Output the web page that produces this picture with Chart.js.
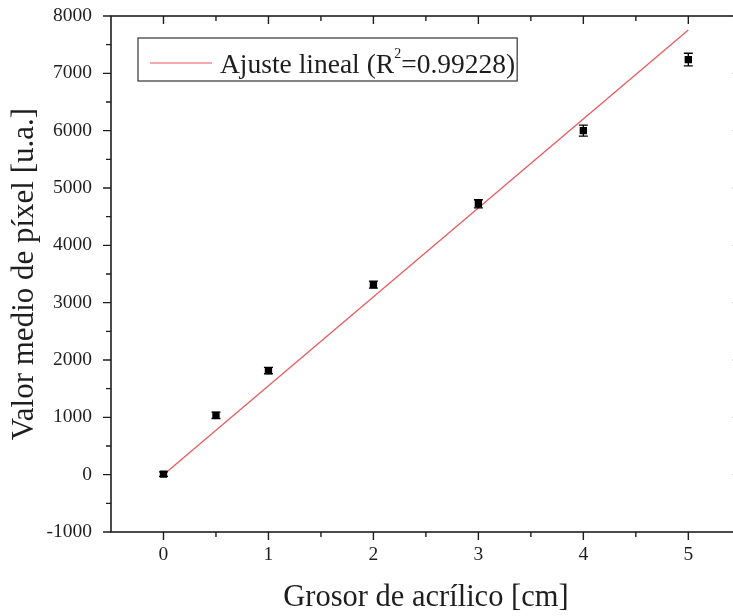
<!DOCTYPE html>
<html>
<head>
<meta charset="utf-8">
<script src="https://cdn.jsdelivr.net/npm/chart.js@4.4.1/dist/chart.umd.min.js"></script>
<style>
html,body{margin:0;padding:0;background:#fff;overflow:hidden;width:733px;height:616px;}
canvas{display:block;}
</style>
</head>
<body>
<canvas id="c" width="746" height="616"></canvas>
<script>
// ---- data ----
const thickness = [0, 0.5, 1, 2, 3, 4, 5];
const pixelMean = [10, 1035, 1815, 3315, 4725, 6000, 7240];
const pixelErr  = [40, 55, 55, 60, 70, 95, 110];
const fitX = [0, 5];
const fitY = [0, 7754];
const xMajorTicks = [0, 1, 2, 3, 4, 5];
const xMinorTicks = [0.5, 1.5, 2.5, 3.5, 4.5];
const yMajorTicks = [-1000, 0, 1000, 2000, 3000, 4000, 5000, 6000, 7000, 8000];
const yMinorTicks = [-500, 500, 1500, 2500, 3500, 4500, 5500, 6500, 7500];
const legendLabel = 'Ajuste lineal (R';
const legendSup = '2';
const legendTail = '=0.99228)';
const xTitle = 'Grosor de acrílico [cm]';
const yTitle = 'Valor medio de píxel [u.a.]';

const SERIF = "'Liberation Serif','Times New Roman',serif";
const INK = '#1e1e1e';

const framePlugin = {
  id: 'frame',
  afterDatasetsDraw(chart) {
    const ctx = chart.ctx, xs = chart.scales.x, ys = chart.scales.y;
    ctx.save();
    ctx.strokeStyle = '#000';
    ctx.lineWidth = 1.3;
    thickness.forEach((t, i) => {
      const px = xs.getPixelForValue(t);
      const top = ys.getPixelForValue(pixelMean[i] + pixelErr[i]);
      const bot = ys.getPixelForValue(pixelMean[i] - pixelErr[i]);
      ctx.beginPath();
      ctx.moveTo(px, top); ctx.lineTo(px, bot);
      ctx.moveTo(px - 4.5, top); ctx.lineTo(px + 4.5, top);
      ctx.moveTo(px - 4.5, bot); ctx.lineTo(px + 4.5, bot);
      ctx.stroke();
    });
    ctx.restore();
  },
  afterDraw(chart) {
    const ctx = chart.ctx, a = chart.chartArea, xs = chart.scales.x, ys = chart.scales.y;
    ctx.save();
    ctx.strokeStyle = INK;
    ctx.lineWidth = 1.6;
    ctx.strokeRect(a.left, a.top, a.right - a.left, a.bottom - a.top);
    ctx.lineWidth = 1.4;
    const major = 8, minor = 5;
    ctx.beginPath();
    xMajorTicks.forEach(v => {
      const p = xs.getPixelForValue(v);
      ctx.moveTo(p, a.bottom); ctx.lineTo(p, a.bottom + major);
      ctx.moveTo(p, a.top); ctx.lineTo(p, a.top + major);
    });
    xMinorTicks.forEach(v => {
      const p = xs.getPixelForValue(v);
      ctx.moveTo(p, a.bottom); ctx.lineTo(p, a.bottom + minor);
      ctx.moveTo(p, a.top); ctx.lineTo(p, a.top + minor);
    });
    yMajorTicks.forEach(v => {
      const p = ys.getPixelForValue(v);
      ctx.moveTo(a.left, p); ctx.lineTo(a.left - major, p);
      ctx.moveTo(a.right, p); ctx.lineTo(a.right - major, p);
    });
    yMinorTicks.forEach(v => {
      const p = ys.getPixelForValue(v);
      ctx.moveTo(a.left, p); ctx.lineTo(a.left - minor, p);
      ctx.moveTo(a.right, p); ctx.lineTo(a.right - minor, p);
    });
    ctx.stroke();

    // legend
    const bx = a.left + 27, by = a.top + 22, bh = 43;
    const F1 = '27.5px ' + SERIF, F2 = '14px ' + SERIF;
    ctx.font = F1;
    const w1 = ctx.measureText(legendLabel).width;
    ctx.font = F2;
    const w2 = ctx.measureText(legendSup).width;
    ctx.font = F1;
    const w3 = ctx.measureText(legendTail).width;
    const tx = bx + 82;
    const bw = (tx - bx) + w1 + w2 + w3 + 2;
    ctx.fillStyle = '#fff';
    ctx.fillRect(bx, by, bw, bh);
    ctx.lineWidth = 1.2;
    ctx.strokeStyle = '#333';
    ctx.strokeRect(bx, by, bw, bh);
    ctx.strokeStyle = '#e8575a';
    ctx.lineWidth = 1.2;
    ctx.beginPath();
    ctx.moveTo(bx + 12, by + 25); ctx.lineTo(bx + 74, by + 25);
    ctx.stroke();
    ctx.fillStyle = INK;
    ctx.textBaseline = 'alphabetic';
    ctx.textAlign = 'left';
    const base = by + 35;
    ctx.font = F1;
    ctx.fillText(legendLabel, tx, base);
    ctx.font = F2;
    ctx.fillText(legendSup, tx + w1, base - 15);
    ctx.font = F1;
    ctx.fillText(legendTail, tx + w1 + w2, base);
    ctx.restore();
  }
};

new Chart(document.getElementById('c'), {
  data: {
    datasets: [
      {
        type: 'scatter',
        data: thickness.map((t, i) => ({x: t, y: pixelMean[i]})),
        pointStyle: 'rect',
        pointRadius: 5.2,
        backgroundColor: '#000',
        borderColor: '#000',
        borderWidth: 0,
        order: 0
      },
      {
        type: 'line',
        data: fitX.map((t, i) => ({x: t, y: fitY[i]})),
        borderColor: '#e65c5f',
        borderWidth: 1.3,
        pointRadius: 0,
        fill: false,
        order: 1
      }
    ]
  },
  options: {
    responsive: false,
    animation: false,
    events: [],
    layout: {padding: {top: 16, right: 1, left: 0, bottom: 0}},
    plugins: {legend: {display: false}, tooltip: {enabled: false}},
    scales: {
      x: {
        type: 'linear',
        min: -0.5, max: 5.5,
        afterBuildTicks: s => { s.ticks = xMajorTicks.map(v => ({value: v})); },
        afterFit: s => { s.height = 84; s.paddingLeft = 0; s.paddingRight = 0; },
        grid: {display: false, drawTicks: true, tickLength: 8},
        border: {display: false},
        ticks: {color: INK, font: {family: SERIF, size: 19.5}, padding: 3, maxRotation: 0,
                callback: v => String(v)},
        title: {display: true, text: xTitle, color: INK, font: {family: SERIF, size: 30.5},
                padding: {top: 0, bottom: 0}}
      },
      y: {
        type: 'linear',
        min: -1000, max: 8000,
        afterBuildTicks: s => { s.ticks = yMajorTicks.map(v => ({value: v})); },
        afterFit: s => { s.width = 111; s.paddingTop = 0; s.paddingBottom = 0; },
        grid: {display: false, drawTicks: true, tickLength: 8},
        border: {display: false},
        ticks: {color: INK, font: {family: SERIF, size: 19.5}, padding: 11,
                callback: v => String(v)},
        title: {display: true, text: yTitle, color: INK, font: {family: SERIF, size: 31},
                padding: {top: 6, bottom: 0}}
      }
    }
  },
  plugins: [framePlugin]
});
</script>
</body>
</html>
